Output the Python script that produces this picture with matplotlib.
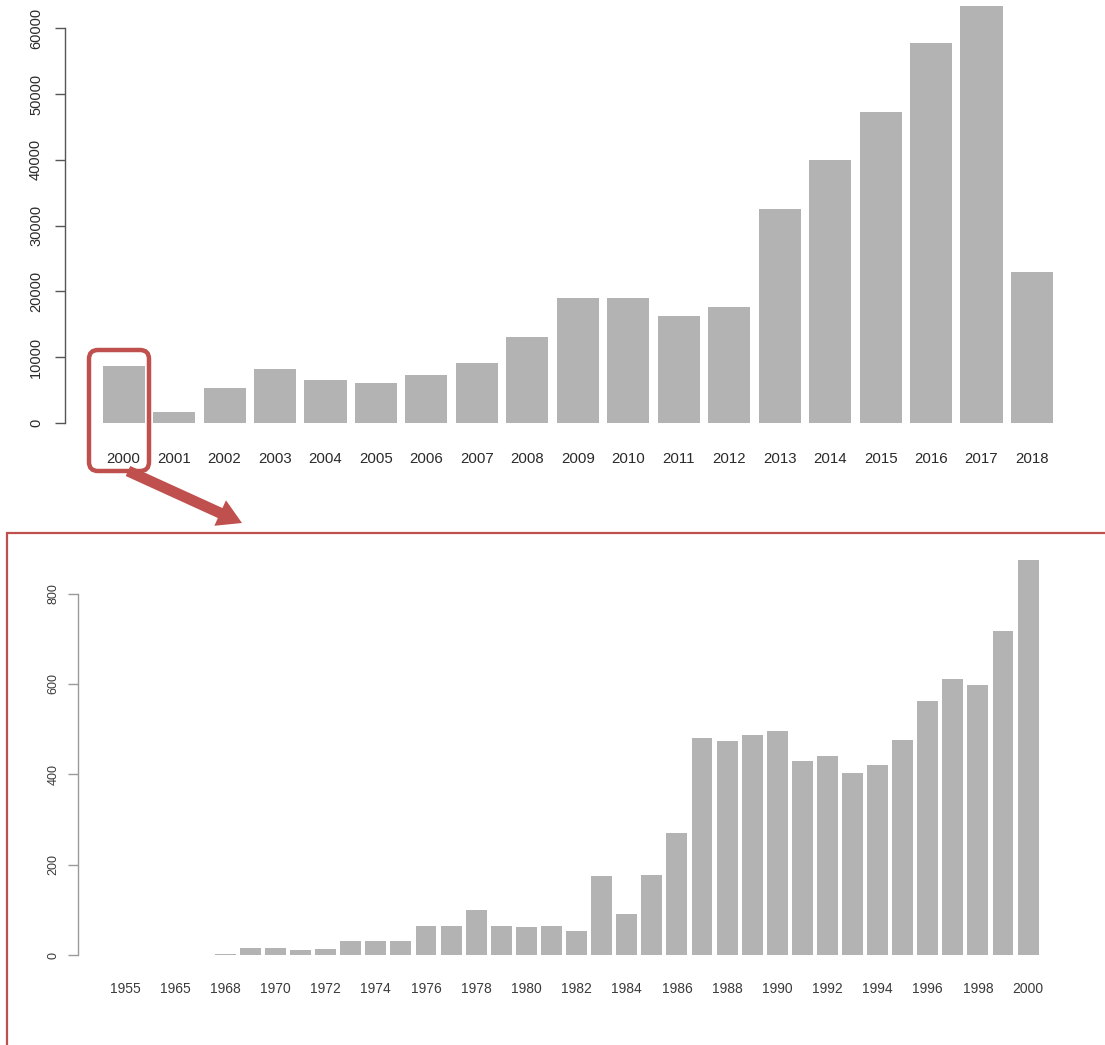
import matplotlib
matplotlib.use("Agg")
import matplotlib.pyplot as plt
import numpy as np
from matplotlib.patches import FancyBboxPatch, Polygon, Rectangle
from matplotlib.transforms import IdentityTransform

plt.rcParams['font.family'] = ['Liberation Sans', 'DejaVu Sans']

# Publications per year, 2000-2018
years_recent = ['2000', '2001', '2002', '2003', '2004', '2005', '2006', '2007', '2008', '2009',
                '2010', '2011', '2012', '2013', '2014', '2015', '2016', '2017', '2018']
counts_recent = [8700, 1620, 5400, 8200, 6570, 6120, 7280, 9150, 13100, 19050,
                 19050, 16280, 17600, 32550, 40000, 47360, 57720, 63390, 22900]
yticks_recent = [0, 10000, 20000, 30000, 40000, 50000, 60000]

# Publications per year up to 2000
years_early = ['1955', '1962', '1965', '1967', '1968', '1969', '1970', '1971', '1972', '1973',
               '1974', '1975', '1976', '1977', '1978', '1979', '1980', '1981', '1982', '1983',
               '1984', '1985', '1986', '1987', '1988', '1989', '1990', '1991', '1992', '1993',
               '1994', '1995', '1996', '1997', '1998', '1999', '2000']
counts_early = [1, 1, 1, 1, 2, 15, 15, 11, 13, 32,
                31, 32, 64, 64, 100, 64, 63, 64, 54, 175,
                90, 177, 271, 481, 473, 486, 495, 430, 440, 404,
                420, 475, 563, 610, 597, 718, 874]
yticks_early = [0, 200, 400, 600, 800]

W, H = 1105, 1045
DPI = 100
BAR = '#b3b3b3'
RED = '#c0504d'

fig = plt.figure(figsize=(W / DPI, H / DPI), dpi=DPI)


def px_axes(left, top, right, bottom):
    """Axes placed by pixel edges (origin at top-left)."""
    return fig.add_axes([left / W, (H - bottom) / H, (right - left) / W, (bottom - top) / H])


def r_barplot(ax, names, values, yticks, show_every, fs_x, fs_y, axis_col, text_col,
              tick_len, ypad, xpad, ylim=None):
    n = len(values)
    centers = 0.7 + 1.2 * np.arange(n)
    ax.bar(centers, values, width=1.0, color=BAR, edgecolor='none', zorder=2)
    span = (0.2 + 1.2 * (n - 1) + 1.0) - 0.2
    ax.set_xlim(0.2 - 0.04 * span, 0.2 + span + 0.04 * span)
    vmax = max(values)
    if ylim is None:
        ylim = (-0.04 * vmax, 1.04 * vmax)
    ax.set_ylim(*ylim)
    for s in ('top', 'right', 'bottom'):
        ax.spines[s].set_visible(False)
    ax.spines['left'].set_bounds(yticks[0], yticks[-1])
    ax.spines['left'].set_color(axis_col)
    ax.spines['left'].set_linewidth(1.0)
    ax.set_yticks(yticks)
    ax.set_yticklabels([str(t) for t in yticks], rotation=90, va='center',
                       fontsize=fs_y, color=text_col)
    ax.tick_params(axis='y', length=tick_len, width=1.0, color=axis_col, pad=ypad)
    ax.set_xticks(centers)
    ax.set_xticklabels([nm if i % show_every == 0 else '' for i, nm in enumerate(names)],
                       fontsize=fs_x, color=text_col)
    ax.tick_params(axis='x', length=0, pad=xpad)
    ax.set_facecolor('none')


# Top panel: 2000-2018
ax1 = px_axes(64.6, -10.6, 1091, 439.7)
r_barplot(ax1, years_recent, counts_recent, yticks_recent, 1,
          fs_x=10.8, fs_y=10.5, axis_col='#555555', text_col='#2a2a2a',
          tick_len=7, ypad=8.5, xpad=9)

# Bottom panel: up to 2000
ax2 = px_axes(77.6, 544.4, 1075.5, 970.8)
r_barplot(ax2, years_early, counts_early, yticks_early, 2,
          fs_x=10.0, fs_y=9.0, axis_col='#9a9a9a', text_col='#3a3a3a',
          tick_len=7, ypad=6, xpad=8)

ident = IdentityTransform()


def fy(y):
    return H - y


# Frame around the lower panel
fig.add_artist(Rectangle((7, fy(1060)), 1110, 1060 - 533, transform=ident,
                         fill=False, edgecolor=RED, linewidth=1.6, clip_on=False))

# Highlight box around the year 2000 bar
fig.add_artist(FancyBboxPatch((89, fy(471)), 60, 471 - 350, transform=ident,
                              boxstyle='round,pad=0,rounding_size=9',
                              fill=False, edgecolor=RED, linewidth=3.2))

# Arrow pointing from the highlighted bar down to the lower panel
start = np.array([128.0, 471.0])
tip = np.array([242.0, 523.0])
d = tip - start
L = np.hypot(*d)
u = d / L
nrm = np.array([-u[1], u[0]])
shaft_w, head_w, head_l = 11.0, 28.0, 24.0
base = tip - u * head_l
pts = [start + nrm * shaft_w / 2, base + nrm * shaft_w / 2, base + nrm * head_w / 2, tip,
       base - nrm * head_w / 2, base - nrm * shaft_w / 2, start - nrm * shaft_w / 2]
pts = [(p[0], fy(p[1])) for p in pts]
fig.add_artist(Polygon(pts, closed=True, transform=ident, facecolor=RED,
                       edgecolor='none'))

fig.savefig('out.png', dpi=DPI)
